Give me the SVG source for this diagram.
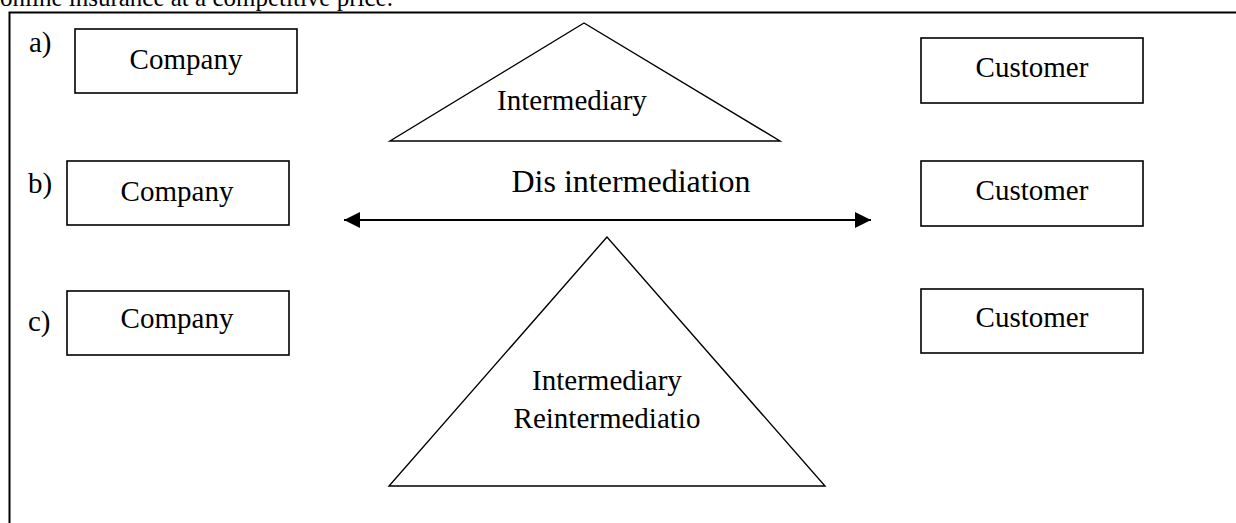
<svg xmlns="http://www.w3.org/2000/svg" width="1236" height="523" viewBox="0 0 1236 523">
<style>
text{font-family:"Liberation Serif","Times New Roman",serif;fill:#000}
.box{fill:#fff;stroke:#000;stroke-width:1.6}
.tri{fill:#fff;stroke:#000;stroke-width:1.4}
.lbl{font-size:29px;text-anchor:middle}
.tag{font-size:29px}
</style>
<defs>
<marker id="ah" viewBox="0 0 16 16" refX="16" refY="8" markerWidth="16" markerHeight="16" markerUnits="userSpaceOnUse" orient="auto-start-reverse">
<path d="M0,0 L16,8 L0,16 Z" fill="#000"/>
</marker>
</defs>
<rect width="1236" height="523" fill="#fff"/>
<text x="0" y="6" style="font-size:25px">online insurance at a competitive price.</text>
<path d="M9.5,523 V12.5 H1236" fill="none" stroke="#000" stroke-width="2"/>
<text class="tag" x="29" y="52">a)</text>
<text class="tag" x="28" y="193">b)</text>
<text class="tag" x="28" y="331">c)</text>
<g id="company-a"><rect class="box" x="75" y="29" width="222" height="64"/><text class="lbl" x="186" y="69">Company</text></g>
<g id="customer-a"><rect class="box" x="921" y="38" width="222" height="65"/><text class="lbl" x="1032" y="77">Customer</text></g>
<g id="intermediary-a"><polygon class="tri" points="584,23 390,141 780,141"/><text class="lbl" x="572" y="110">Intermediary</text></g>
<g id="company-b"><rect class="box" x="67" y="161" width="222" height="64"/><text class="lbl" x="177" y="201">Company</text></g>
<g id="customer-b"><rect class="box" x="921" y="161" width="222" height="65"/><text class="lbl" x="1032" y="200">Customer</text></g>
<g id="company-c"><rect class="box" x="67" y="291" width="222" height="64"/><text class="lbl" x="177" y="328">Company</text></g>
<g id="customer-c"><rect class="box" x="921" y="289" width="222" height="64"/><text class="lbl" x="1032" y="327">Customer</text></g>
<g id="intermediary-c"><polygon class="tri" points="607,237 389,486 825,486"/><text class="lbl" x="607" y="390">Intermediary</text><text class="lbl" x="607" y="428">Reintermediatio</text></g>
<g id="connectors">
<text x="631" y="192" style="font-size:32px;text-anchor:middle">Dis intermediation</text>
<line x1="344" y1="220" x2="871" y2="220" stroke="#000" stroke-width="2.2" marker-start="url(#ah)" marker-end="url(#ah)"/>
</g>
</svg>
